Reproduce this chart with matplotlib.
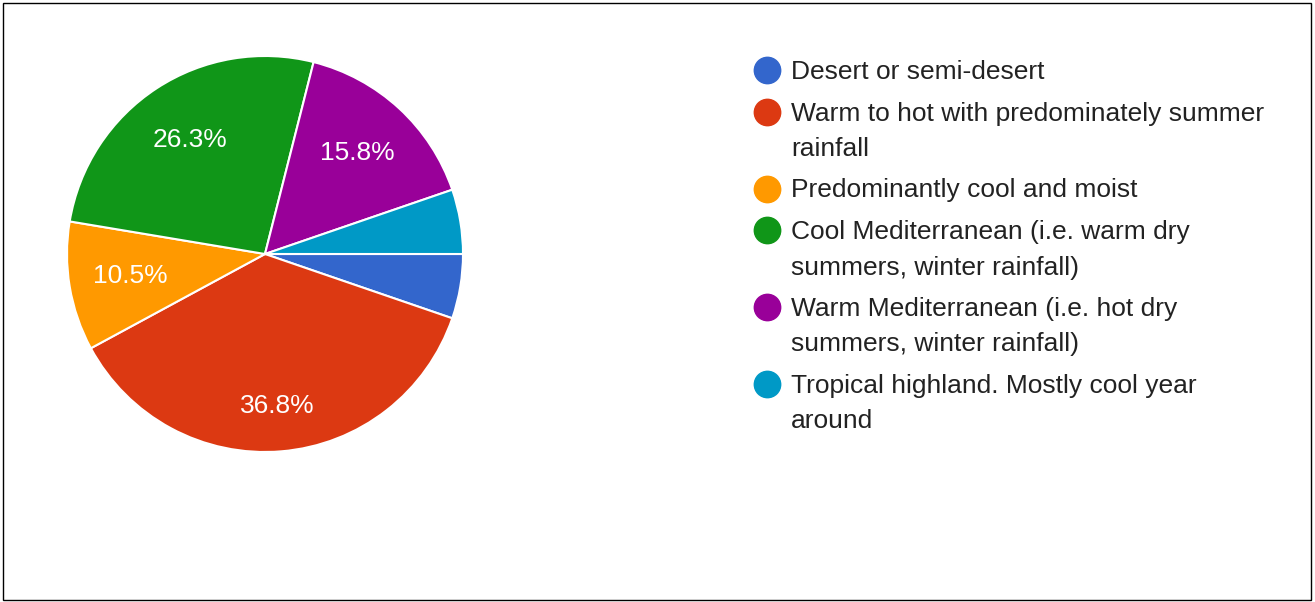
import matplotlib.pyplot as plt
from matplotlib.patches import Rectangle

labels = [
    "Desert or semi-desert",
    "Warm to hot with predominately summer\nrainfall",
    "Predominantly cool and moist",
    "Cool Mediterranean (i.e. warm dry\nsummers, winter rainfall)",
    "Warm Mediterranean (i.e. hot dry\nsummers, winter rainfall)",
    "Tropical highland. Mostly cool year\naround",
]
counts = [1, 7, 2, 5, 3, 1]
colors = ["#3366cc", "#dc3912", "#ff9900", "#109618", "#990099", "#0099c6"]

plt.rcParams['font.family'] = ['Liberation Sans', 'DejaVu Sans']

W, H = 1315, 602
fig = plt.figure(figsize=(W / 100, H / 100), dpi=100)

# pie
cx, cy, r = 265, 254, 198
ax = fig.add_axes([(cx - r) / W, (H - cy - r) / H, 2 * r / W, 2 * r / H])
wedges, texts, autotexts = ax.pie(
    counts, colors=colors, startangle=0, counterclock=False,
    autopct=lambda p: f"{p:.1f}%" if p > 6 else "", pctdistance=0.69,
    wedgeprops=dict(edgecolor="white", linewidth=1.5),
    textprops=dict(color="white", fontsize=19))
px, py = autotexts[1].get_position()
autotexts[1].set_position((px * 1.12, py * 1.12))
ax.set_xlim(-1, 1)
ax.set_ylim(-1, 1)
ax.set_aspect("equal")
ax.axis("off")

# legend
y = 72
for lab, col in zip(labels, colors):
    fig.add_artist(plt.Line2D([767 / W], [1 - (y - 2) / H], marker="o", markersize=19,
                              color=col, linestyle="none", transform=fig.transFigure))
    for line in lab.split("\n"):
        fig.text(791 / W, 1 - y / H, line, fontsize=19, color="#222222",
                 va="center", ha="left")
        y += 35.5
    y += 6

fig.patches.append(Rectangle((3 / W, 2 / H), 1 - 7 / W, 1 - 5 / H, fill=False,
                             edgecolor="black", linewidth=1, transform=fig.transFigure))

fig.savefig("out.png", dpi=100)
